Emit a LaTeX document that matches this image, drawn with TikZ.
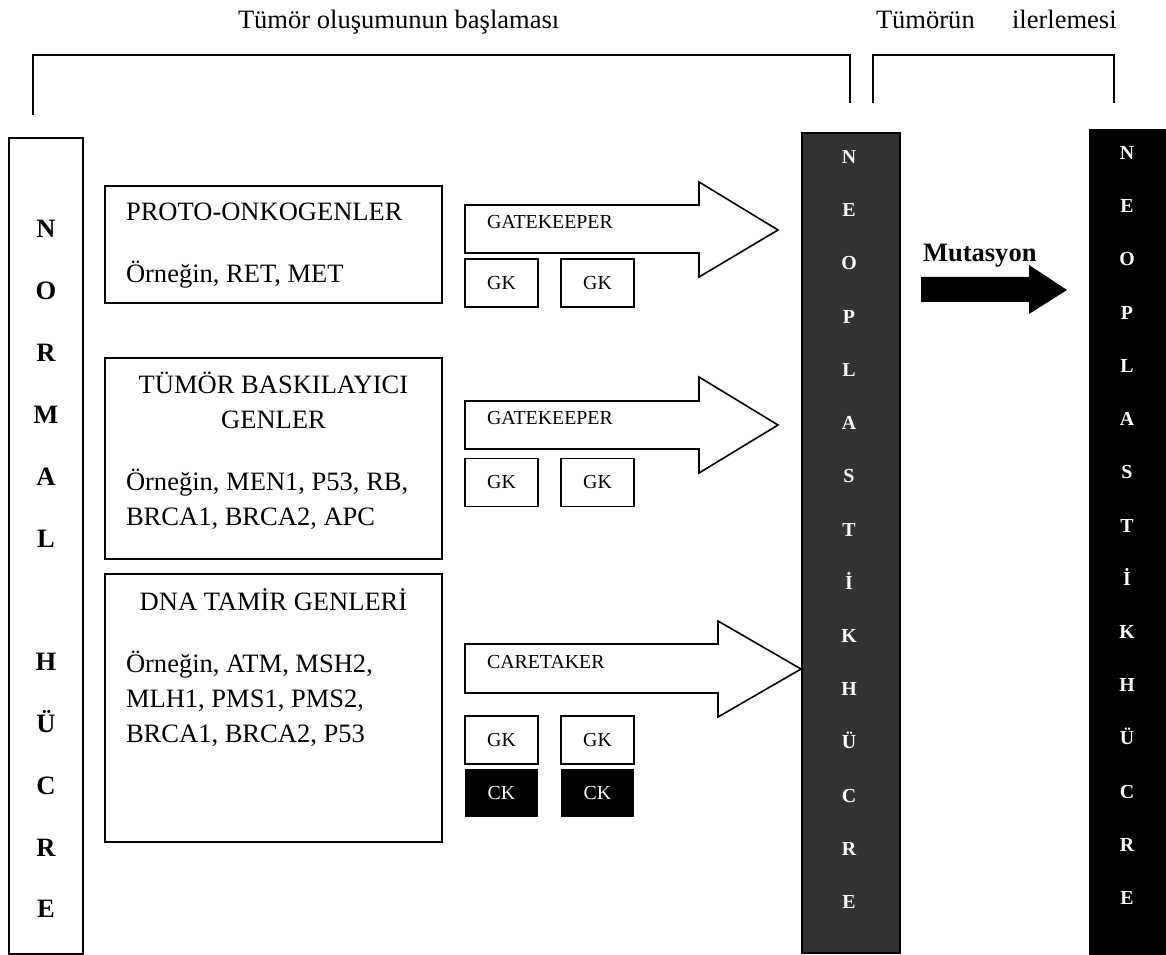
\documentclass[tikz,border=0pt]{standalone}
\usepackage{fontspec}
\setmainfont{Liberation Serif}
\begin{document}
\begin{tikzpicture}[x=0.75pt,y=-0.75pt,
  big/.style={font=\fontsize{19.9}{24}\selectfont},
  small/.style={font=\fontsize{14.9}{18}\selectfont},
  txt/.style={inner sep=0pt, outer sep=0pt},
  frame/.style={draw, line width=1.3pt, inner sep=0pt},
  gkbox/.style={draw, line width=1.2pt, inner sep=0pt, minimum width=54.75pt, minimum height=36pt, small},
  ckbox/.style={fill=black, text=white, inner sep=0pt, minimum width=54.75pt, minimum height=36pt, small},
  blockarrow/.style={draw, fill=white, line width=1.2pt, line join=miter},
  bracket/.style={line width=1.5pt},
  colletter/.style={inner sep=0pt, anchor=base, font=\fontsize{19.9}{24}\selectfont\bfseries},
  neoletter/.style={inner sep=0pt, anchor=base, text=white, font=\fontsize{14.9}{18}\selectfont\bfseries}
]
\useasboundingbox (0,0) rectangle (1166,955);

% titles
\node[txt, big, anchor=base west] (t1) at (238,29) {Tümör oluşumunun başlaması};
\node[txt, big, anchor=base west] (t2) at (876,29) {Tümörün};
\node[txt, big, anchor=base west] (t3) at (1012,29) {ilerlemesi};

% brackets
\draw[bracket] (33,115) -- (33,55) -- (850,55) -- (850,103);
\draw[bracket] (873,103) -- (873,55) -- (1114,55) -- (1114,103);

% NORMAL HÜCRE column
\node[frame, minimum width=55.5pt, minimum height=612pt] (normal) at (46,546) {};
\foreach \l [count=\i from 0] in {N,O,R,M,A,L,{},H,Ü,C,R,E}{
  \node[colletter] (nl\i) at (46,{238+61.8*\i}) {\l};
}

% gene boxes
\node[frame, minimum width=252.75pt, minimum height=87.75pt] (proto) at (273.5,244.5) {};
\node[frame, minimum width=252.75pt, minimum height=150.75pt] (tsg) at (273.5,458.5) {};
\node[frame, minimum width=252.75pt, minimum height=201pt] (dna) at (273.5,708) {};

\node[txt, big, anchor=base west] (p1) at (126,221) {PROTO-ONKOGENLER};
\node[txt, big, anchor=base west] (p2) at (126,283) {Örneğin, RET, MET};
\node[txt, big, anchor=base] (s1) at (273.5,393) {TÜMÖR BASKILAYICI};
\node[txt, big, anchor=base] (s2) at (273.5,428) {GENLER};
\node[txt, big, anchor=base west] (s3) at (126,490) {Örneğin, MEN1, P53, RB,};
\node[txt, big, anchor=base west] (s4) at (126,525) {BRCA1, BRCA2, APC};
\node[txt, big, anchor=base] (d1) at (273.5,610) {DNA TAMİR GENLERİ};
\node[txt, big, anchor=base west] (d2) at (126,672) {Örneğin, ATM, MSH2,};
\node[txt, big, anchor=base west] (d3) at (126,707) {MLH1, PMS1, PMS2,};
\node[txt, big, anchor=base west] (d4) at (126,742) {BRCA1, BRCA2, P53};

% neoplastic columns
\node[draw, line width=1pt, fill=black!80, minimum width=73.5pt, minimum height=615pt, inner sep=0pt] (neo) at (851,543) {};
\foreach \l [count=\i from 0] in {N,E,O,P,L,A,S,T,İ,K,H,Ü,C,R,E}{
  \node[neoletter] (na\i) at (849,{163.6+53.2*\i}) {\l};
}
\node[fill=black, minimum width=57.75pt, minimum height=619.5pt, inner sep=0pt] (neo2) at (1127.5,542) {};
\foreach \l [count=\i from 0] in {N,E,O,P,L,A,S,T,İ,K,H,Ü,C,R,E}{
  \node[neoletter] (nb\i) at (1127,{159.6+53.2*\i}) {\l};
}

% block arrows
\draw[blockarrow] (465,205) -- (699,205) -- (699,182) -- (778,230) -- (699,277) -- (699,253) -- (465,253) -- cycle;
\draw[blockarrow] (465,401) -- (699,401) -- (699,377) -- (778,425) -- (699,473) -- (699,449) -- (465,449) -- cycle;
\draw[blockarrow] (465,644) -- (718,644) -- (718,621) -- (801,669) -- (718,717) -- (718,693) -- (465,693) -- cycle;

\node[txt, small, anchor=base west] (a1) at (487,229) {GATEKEEPER};
\node[txt, small, anchor=base west] (a2) at (487,424) {GATEKEEPER};
\node[txt, small, anchor=base west] (a3) at (487,668) {CARETAKER};

% GK / CK boxes
\node[gkbox] (g1a) at (501.5,283) {GK};
\node[gkbox] (g1b) at (597.5,283) {GK};
\node[gkbox] (g2a) at (501.5,482.5) {GK};
\node[gkbox] (g2b) at (597.5,482.5) {GK};
\node[gkbox] (g3a) at (501.5,740) {GK};
\node[gkbox] (g3b) at (597.5,740) {GK};
\node[ckbox] (c3a) at (501.5,793) {CK};
\node[ckbox] (c3b) at (597.5,793) {CK};

% mutation arrow
\fill (921,277) -- (1029,277) -- (1029,265) -- (1067,290) -- (1029,314) -- (1029,302) -- (921,302) -- cycle;
\node[txt, anchor=base west, font=\fontsize{19.9}{24}\selectfont\bfseries] (mut) at (923,262) {Mutasyon};
\end{tikzpicture}
\end{document}
